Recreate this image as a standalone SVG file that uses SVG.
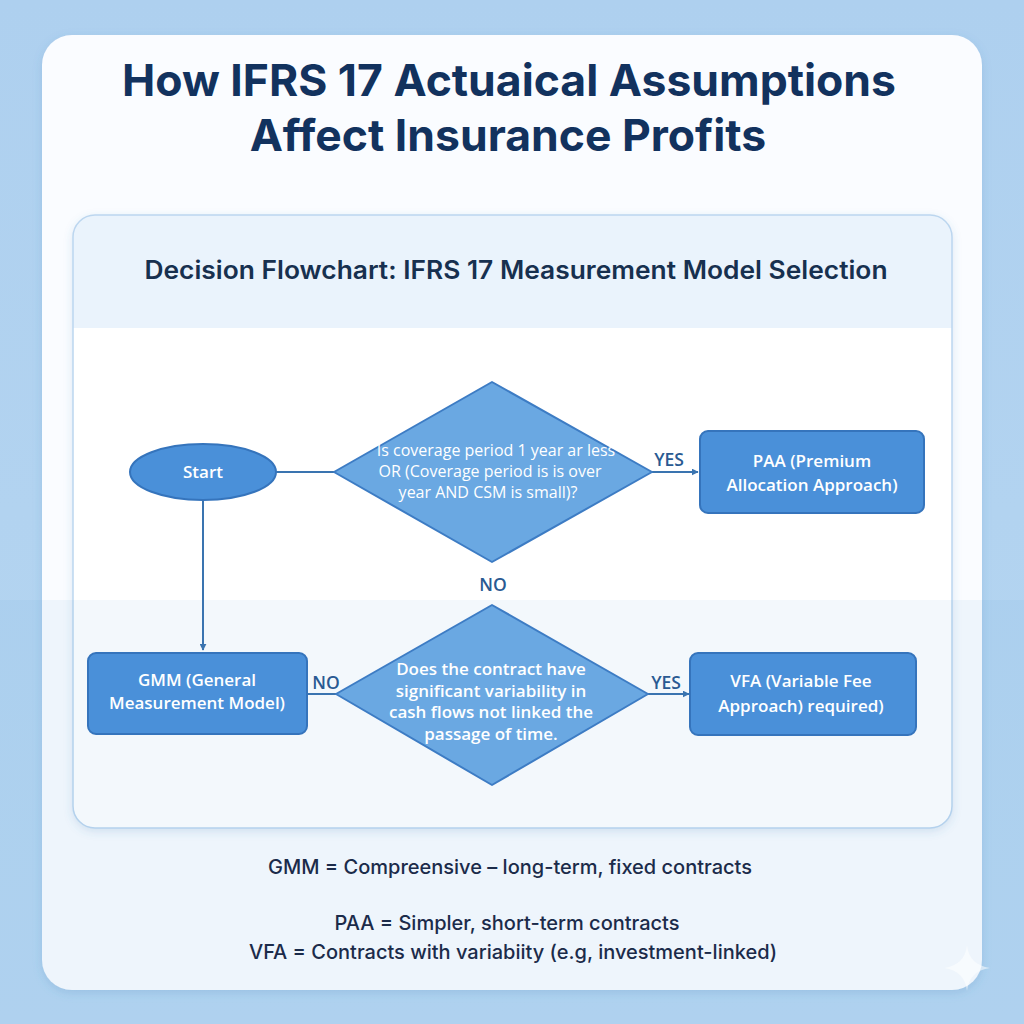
<svg xmlns="http://www.w3.org/2000/svg" width="1024" height="1024" viewBox="0 0 1024 1024">
<defs>
<style>
.title{font-family:Inter,"Open Sans","Liberation Sans",sans-serif;font-weight:700;font-size:44.5px;fill:#12325E;text-anchor:middle}
.sub{font-family:Inter,"Open Sans","Liberation Sans",sans-serif;font-weight:600;font-size:25px;fill:#17304F;text-anchor:middle}
.box{fill:#4A90D9;stroke:#3574BC;stroke-width:2}
.dia{fill:#6AA8E2;stroke:#3D7CC4;stroke-width:2;stroke-linejoin:round}
.nt{font-family:"Open Sans","Liberation Sans",sans-serif;font-weight:600;font-size:17px;fill:#FFFFFF;text-anchor:middle}
.dt{font-family:"Open Sans","Liberation Sans",sans-serif;font-weight:500;font-size:16px;fill:#FFFFFF;text-anchor:middle}
.conn{stroke:#3A74B0;stroke-width:2;fill:none}
.lbl{font-family:"Open Sans","Liberation Sans",sans-serif;font-weight:600;font-size:17.5px;fill:#2A5A92;text-anchor:middle}
.foot{font-family:Inter,"Open Sans","Liberation Sans",sans-serif;font-weight:500;font-size:20px;fill:#1B2B4A;text-anchor:middle}
</style>
<marker id="arr" viewBox="0 0 10 10" refX="9" refY="5" markerWidth="7" markerHeight="7" orient="auto" markerUnits="userSpaceOnUse">
<path d="M0,0 L10,5 L0,10 z" fill="#3A74B0"/>
</marker>
<linearGradient id="bg" x1="0" y1="0" x2="0" y2="1">
<stop offset="0" stop-color="#AED0EF"/>
<stop offset="1" stop-color="#B6D6F1"/>
</linearGradient>
<clipPath id="pclip"><rect x="73" y="215" width="879" height="613" rx="22"/></clipPath>
<filter id="sh" x="-10%" y="-10%" width="120%" height="120%">
<feDropShadow dx="0" dy="3" stdDeviation="5" flood-color="#4A7FB5" flood-opacity="0.2"/>
</filter>
</defs>
<rect width="1024" height="1024" fill="url(#bg)"/>
<g id="card">
<rect x="42" y="35" width="940" height="955" rx="30" fill="#FAFCFF" filter="url(#sh)"/>
</g>
<g id="title">
<text class="title" x="509" y="96">How IFRS 17 Actuaical Assumptions</text>
<text class="title" x="508" y="151">Affect Insurance Profits</text>
</g>
<g id="panel">
<rect x="73" y="215" width="879" height="613" rx="22" fill="#FFFFFF" filter="url(#sh)"/>
<rect x="73" y="215" width="879" height="113" fill="#EAF3FC" clip-path="url(#pclip)"/>
<rect x="73" y="215" width="879" height="613" rx="22" fill="none" stroke="#BCD6EF" stroke-width="1.5"/>
<text class="sub" x="516" y="279" textLength="743" lengthAdjust="spacingAndGlyphs">Decision Flowchart: IFRS 17 Measurement Model Selection</text>
</g>
<rect x="0" y="600" width="1024" height="424" fill="#5A9BDB" opacity="0.07"/>
<g id="connectors">
<path class="conn" d="M276,472 L334,472"/>
<path class="conn" d="M652,472 L698,472" marker-end="url(#arr)"/>
<path class="conn" d="M203,500 L203,650" marker-end="url(#arr)"/>
<path class="conn" d="M336,694 L308,694"/>
<path class="conn" d="M648,694 L689,694" marker-end="url(#arr)"/>
<text class="lbl" x="669" y="466">YES</text>
<text class="lbl" x="493" y="591">NO</text>
<text class="lbl" x="326" y="689">NO</text>
<text class="lbl" x="666" y="689">YES</text>
</g>
<g id="start">
<ellipse class="box" cx="203" cy="472" rx="73" ry="28"/>
<text class="nt" x="203" y="478">Start</text>
</g>
<g id="decision1">
<path class="dia" d="M492,382 L652,472 L492,562 L334,472 Z"/>
<text class="dt" x="496" y="456">Is coverage period 1 year ar less</text>
<text class="dt" x="490" y="477">OR (Coverage period is  is over</text>
<text class="dt" x="488" y="498">year AND CSM is small)?</text>
</g>
<g id="paa">
<rect class="box" x="700" y="431" width="224" height="82" rx="8"/>
<text class="nt" x="812" y="467">PAA (Premium</text>
<text class="nt" x="812" y="491">Allocation Approach)</text>
</g>
<g id="decision2">
<path class="dia" d="M492,605 L648,694 L492,785 L336,694 Z"/>
<text class="nt" x="491" y="675">Does the contract have</text>
<text class="nt" x="491" y="697">significant variability in</text>
<text class="nt" x="491" y="718">cash flows not linked the</text>
<text class="nt" x="491" y="740">passage of time.</text>
</g>
<g id="gmm">
<rect class="box" x="88" y="653" width="219" height="81" rx="8"/>
<text class="nt" x="197" y="686">GMM (General</text>
<text class="nt" x="197" y="709">Measurement Model)</text>
</g>
<g id="vfa">
<rect class="box" x="690" y="653" width="226" height="82" rx="8"/>
<text class="nt" x="801" y="687">VFA (Variable Fee</text>
<text class="nt" x="801" y="712">Approach) required)</text>
</g>
<g id="legend">
<text class="foot" x="510" y="874">GMM = Compreensive – long-term, fixed contracts</text>
<text class="foot" x="507" y="930">PAA = Simpler, short-term contracts</text>
<text class="foot" x="513" y="959">VFA = Contracts with variabiity (e.g, investment-linked)</text>
</g>
<path d="M967,945 Q969,965 990,968 Q969,971 967,991 Q965,971 944,968 Q965,965 967,945 Z" fill="#FFFFFF" opacity="0.55"/>
</svg>
